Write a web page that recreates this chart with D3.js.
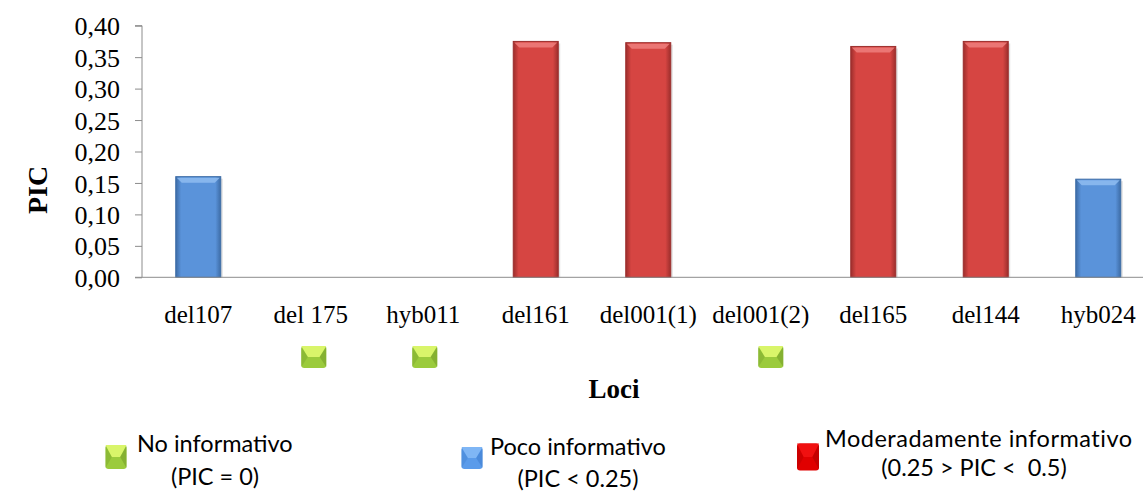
<!DOCTYPE html>
<html><head><meta charset="utf-8">
<script src="https://cdn.jsdelivr.net/npm/d3@7/dist/d3.min.js"></script>
<style>body{margin:0;background:#fff}svg{display:block}</style>
</head><body>
<svg id="c" width="1143" height="494"></svg>
<script>
const categories = ["del107","del 175","hyb011","del161","del001(1)","del001(2)","del165","del144","hyb024"];
const picValues = [0.160, 0, 0, 0.375, 0.373, 0, 0.367, 0.375, 0.156];
const classes = ["poco","no","no","mod","mod","no","mod","mod","poco"];
const yTicks = [0,0.05,0.10,0.15,0.20,0.25,0.30,0.35,0.40];
const legendItems = [
  {key:"no", line1:"No informativo", line2:"(PIC = 0)"},
  {key:"poco", line1:"Poco informativo", line2:"(PIC < 0.25)"},
  {key:"mod", line1:"Moderadamente informativo", line2:"(0.25 > PIC <  0.5)"}
];

const svg = d3.select("#c");
const defs = svg.append("defs");
const colors = {
  poco:{fill:"#5A93DA", light:"#8FBCF0", dark:"#3D6CA6"},
  mod:{fill:"#D64542", light:"#EE7F7C", dark:"#9C2E2C"},
  no:{fill:"#9BCB3C", light:"#D9F56A", dark:"#76A02A"},
  modLeg:{fill:"#E00000", light:"#F01010", dark:"#B00000"},
  pocoLeg:{fill:"#5A9BEA", light:"#7FB6F5", dark:"#3F7FD0"}
};
Object.entries(colors).forEach(([k,c])=>{
  const g = defs.append("linearGradient").attr("id","h"+k).attr("x1",0).attr("x2",1).attr("y1",0).attr("y2",0);
  g.append("stop").attr("offset","0%").attr("stop-color",c.dark);
  g.append("stop").attr("offset","12%").attr("stop-color",c.fill);
  g.append("stop").attr("offset","88%").attr("stop-color",c.fill);
  g.append("stop").attr("offset","100%").attr("stop-color",c.dark);
});

const x = d3.scaleBand().domain(categories).range([142, 1154.5]).paddingInner(0.6).paddingOuter(0.3);
const y = d3.scaleLinear().domain([0,0.4]).range([277.3, 25.7]);

// y axis
const yAxis = d3.axisLeft(y).tickValues(yTicks).tickSize(7).tickPadding(15)
  .tickFormat(d=>d3.format(".2f")(d).replace(".",","));
const ya = svg.append("g").attr("transform","translate(142,0)").call(yAxis);
ya.select(".domain").attr("stroke","#8c8c8c").attr("d","M-7,25.7H0V277.3H-7");
ya.selectAll(".tick line").attr("stroke","#8c8c8c");
ya.selectAll(".tick text").attr("font-family","Liberation Serif").attr("font-size","26px").attr("fill","#000").attr("dy","0.35em");

// bars
const bars = svg.append("g");
categories.forEach((c,i)=>{
  const v = picValues[i];
  if (v <= 0) return;
  const k = classes[i], col = colors[k];
  const bx = x(c), bw = x.bandwidth(), by = y(v), bh = y(0)-y(v);
  bars.append("rect").attr("x",bx+2).attr("y",by+2).attr("width",bw).attr("height",bh-2).attr("fill","#000").attr("opacity",0.12);
  bars.append("rect").attr("x",bx).attr("y",by).attr("width",bw).attr("height",bh)
    .attr("fill","url(#h"+k+")").attr("stroke",col.dark).attr("stroke-width",1);
  bars.append("path").attr("d",`M${bx+1},${by+1}H${bx+bw-1}L${bx+bw-6},${by+6}H${bx+6}Z`).attr("fill",col.light).attr("opacity",0.85);
});

// x axis
const xAxis = d3.axisBottom(x).tickSize(0);
const xa = svg.append("g").attr("transform","translate(0,277.3)").call(xAxis);
xa.select(".domain").attr("stroke","#8c8c8c").attr("d","M142,0H1143");
xa.selectAll(".tick text").attr("font-family","Liberation Serif").attr("font-size","25px").attr("fill","#000").attr("dy","0").attr("y",45.5);

function marker(g, cx, cy, k, w, h){
  const col = colors[k];
  const x0=cx-w/2, y0=cy-h/2;
  const inset = Math.min(w,h)*0.3;
  g.append("rect").attr("x",x0).attr("y",y0).attr("width",w).attr("height",h).attr("rx",3).attr("fill",col.fill);
  g.append("path").attr("d",`M${x0},${y0}H${x0+w}L${x0+w-inset},${cy}H${x0+inset}Z`).attr("fill",col.light);
  g.append("path").attr("d",`M${x0+w},${y0+1}L${x0+w-inset},${cy}L${x0+w},${y0+h-1}Z`).attr("fill",col.dark).attr("opacity",0.6);
  g.append("path").attr("d",`M${x0},${y0+1}L${x0+inset},${cy}L${x0},${y0+h-1}Z`).attr("fill",col.dark).attr("opacity",0.4);
}

// no-informative markers under axis
const markerShift = [0,3,1.5,0,0,10,0,0,0];
const mk = svg.append("g");
categories.forEach((c,i)=>{
  if (classes[i]==="no") marker(mk, x(c)+x.bandwidth()/2+markerShift[i], 357, "no", 25, 22);
});

// axis titles
svg.append("text").attr("transform","translate(47,190) rotate(-90)").attr("text-anchor","middle")
  .attr("font-family","Liberation Serif").attr("font-weight","bold").attr("font-size","28px").text("PIC");
svg.append("text").attr("x",614).attr("y",398).attr("text-anchor","middle")
  .attr("font-family","Liberation Serif").attr("font-weight","bold").attr("font-size","27px").text("Loci");

// legend
const lg = svg.append("g").attr("font-family","Lato, 'Open Sans', sans-serif").attr("font-size","23.5px").attr("fill","#000");
const legPos = [
  {key:"no", mx:116,my:457,mw:21,mh:24,tx:137,t1y:452,t2x:215,t2y:485,ls:0},
  {key:"pocoLeg", mx:472,my:458,mw:21,mh:22,tx:490,t1y:455,t2x:578,t2y:487,ls:0},
  {key:"modLeg", mx:808,my:457,mw:22,mh:27,tx:825,t1y:447,t2x:974,t2y:476,ls:0.5}
];
legendItems.forEach((d,i)=>{
  const p = legPos[i];
  marker(lg, p.mx, p.my, p.key, p.mw, p.mh);
  lg.append("text").attr("x",p.tx).attr("y",p.t1y).attr("letter-spacing",p.ls).text(d.line1);
  lg.append("text").attr("x",p.t2x).attr("y",p.t2y).attr("text-anchor","middle").style("white-space","pre").text(d.line2);
});
</script>
</body></html>
